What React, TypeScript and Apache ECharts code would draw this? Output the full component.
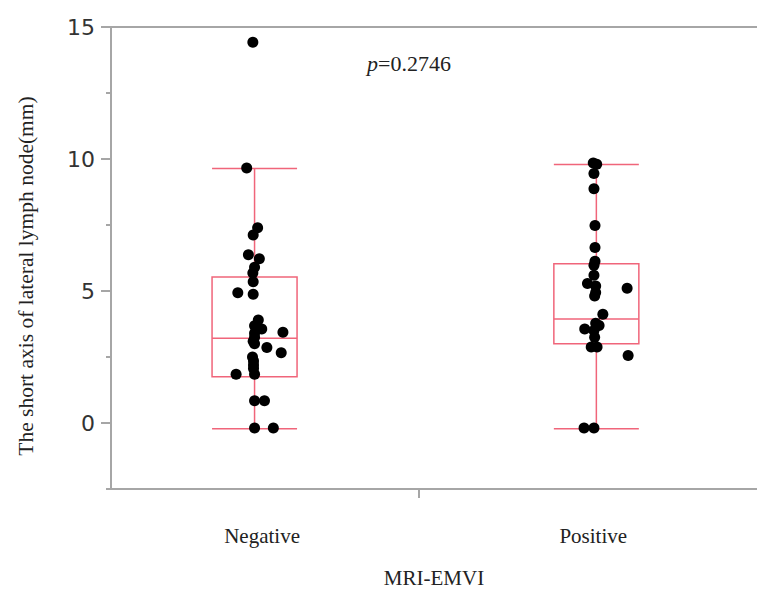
import React, { useEffect, useRef } from "react";
import * as echarts from "echarts";

// Categories and their positions on the x value axis
const categories = ["Negative", "Positive"];
const categoryX = [1, 2];
const categoryLabelX = [1.022, 1.991];
const dividerTickX = [1.479];

// Y axis ticks
const yMajorTicks = [0, 5, 10, 15];
const yMinorTicks = [-2.5, 2.5, 7.5, 12.5];

// Box plot summary: [min, Q1, median, Q3, max]
const negBox = [-0.22, 1.75, 3.21, 5.53, 9.64];
const posBox = [-0.22, 3.0, 3.94, 6.03, 9.79];

// Individual points (value, horizontal jitter offset)
const negValues = [14.42, 9.66, 7.4, 7.12, 6.37, 6.22, 5.9, 5.68, 5.35, 4.93, 4.88, 3.9, 3.68, 3.56, 3.44, 3.4, 3.25, 3.1, 3.0, 2.86, 2.66, 2.5, 2.35, 2.2, 2.06, 1.85, 1.85, 0.84, 0.84, -0.19, -0.19];
const negJitter = [-0.005, -0.023, 0.009, -0.004, -0.018, 0.014, 0.0, -0.005, -0.004, -0.049, -0.004, 0.011, 0.0, 0.021, 0.083, 0.0, 0.0, -0.004, 0.0, 0.036, 0.078, -0.006, -0.003, -0.003, -0.003, -0.054, 0.0, 0.0, 0.029, 0.0, 0.055];
const posValues = [9.85, 9.8, 9.45, 8.87, 7.48, 6.65, 6.13, 5.98, 5.6, 5.28, 5.19, 5.1, 4.94, 4.81, 4.12, 3.78, 3.69, 3.56, 3.5, 3.25, 2.88, 2.88, 2.56, -0.19, -0.19];
const posJitter = [-0.009, 0.001, -0.007, -0.007, -0.004, -0.004, -0.004, -0.007, -0.007, -0.026, -0.002, 0.09, -0.002, -0.005, 0.019, -0.002, 0.008, -0.034, -0.007, -0.005, -0.015, 0.002, 0.093, -0.036, -0.007];

const X_MIN = 0.58;
const X_MAX = 2.47;
const BOX_COLOR = "#f0657a";
const AXIS_COLOR = "#a6a6a6";

export default function App() {
  const ref = useRef<HTMLDivElement>(null);

  useEffect(() => {
    if (!ref.current) return;
    const chart = echarts.init(ref.current, null, { renderer: "svg" });

    const boxData = [
      [categoryX[0], ...negBox],
      [categoryX[1], ...posBox],
    ];
    const pts: number[][] = [];
    negValues.forEach((v, i) => pts.push([categoryX[0] + negJitter[i], v]));
    posValues.forEach((v, i) => pts.push([categoryX[1] + posJitter[i], v]));

    const halfW = 42.5;

    chart.setOption({
      animation: false,
      grid: { left: 111, right: 0, top: 27, bottom: 100, containLabel: false },
      xAxis: [
        {
          type: "value",
          min: X_MIN,
          max: X_MAX,
          position: "bottom",
          splitLine: { show: false },
          axisLine: { show: true, onZero: false, lineStyle: { color: AXIS_COLOR, width: 2 } },
          axisTick: {
            show: true,
            customValues: dividerTickX,
            length: 9,
            lineStyle: { color: AXIS_COLOR, width: 2 },
          },
          axisLabel: {
            customValues: categoryLabelX,
            margin: 36,
            color: "#222",
            fontFamily: "Liberation Serif",
            fontSize: 21,
            formatter: (v: number) => {
              let best = 0;
              categoryLabelX.forEach((c, i) => {
                if (Math.abs(c - v) < Math.abs(categoryLabelX[best] - v)) best = i;
              });
              return categories[best];
            },
          },
          name: "MRI-EMVI",
          nameLocation: "middle",
          nameGap: 78,
          nameTextStyle: {
            color: "#222",
            fontFamily: "Liberation Serif",
            fontSize: 21,
          },
        },
        {
          type: "value",
          min: X_MIN,
          max: X_MAX,
          position: "top",
          splitLine: { show: false },
          axisLine: { show: true, onZero: false, lineStyle: { color: AXIS_COLOR, width: 2 } },
          axisTick: { show: false },
          axisLabel: { show: false },
        },
      ],
      yAxis: [
        {
          type: "value",
          min: -2.5,
          max: 15,
          interval: 2.5,
          splitLine: { show: false },
          axisLine: { show: true, onZero: false, lineStyle: { color: AXIS_COLOR, width: 2 } },
          axisTick: {
            show: true,
            customValues: yMajorTicks,
            length: 10,
            lineStyle: { color: AXIS_COLOR, width: 2 },
          },
          axisLabel: {
            customValues: yMajorTicks,
            margin: 16,
            color: "#333",
            fontFamily: "DejaVu Sans",
            fontSize: 22,
            formatter: (v: number) => (v % 5 === 0 ? String(v) : ""),
          },
          name: "The short axis of lateral lymph node(mm)",
          nameLocation: "middle",
          nameGap: 74,
          nameRotate: 90,
          nameTextStyle: {
            color: "#222",
            fontFamily: "Liberation Serif",
            fontSize: 21.5,
            padding: [0, 36, 0, 0],
          },
        },
        {
          type: "value",
          min: -2.5,
          max: 15,
          interval: 2.5,
          position: "left",
          splitLine: { show: false },
          axisLine: { show: false, onZero: false },
          axisTick: {
            show: true,
            customValues: yMinorTicks,
            length: 5,
            lineStyle: { color: AXIS_COLOR, width: 2 },
          },
          axisLabel: { show: false },
        },
      ],
      graphic: [
        {
          type: "text",
          left: 367,
          top: 52,
          style: {
            text: "{i|p}=0.2746",
            font: "22px 'Liberation Serif'",
            fill: "#222",
            rich: {
              i: {
                fontStyle: "italic",
                fontFamily: "Liberation Serif",
                fontSize: 22,
                fill: "#222",
              },
            },
          },
        },
      ],
      series: [
        {
          type: "custom",
          xAxisIndex: 0,
          yAxisIndex: 0,
          z: 2,
          data: boxData,
          encode: { x: 0, y: [1, 2, 3, 4, 5] },
          renderItem: (params: any, api: any) => {
            const x = api.value(0);
            const mn = api.coord([x, api.value(1)]);
            const q1 = api.coord([x, api.value(2)]);
            const md = api.coord([x, api.value(3)]);
            const q3 = api.coord([x, api.value(4)]);
            const mx = api.coord([x, api.value(5)]);
            const cx = mn[0];
            const st = { stroke: BOX_COLOR, lineWidth: 1.5, fill: "none" };
            return {
              type: "group",
              children: [
                { type: "rect", shape: { x: cx - halfW, y: q3[1], width: 2 * halfW, height: q1[1] - q3[1] }, style: st },
                { type: "line", shape: { x1: cx - halfW, y1: md[1], x2: cx + halfW, y2: md[1] }, style: st },
                { type: "line", shape: { x1: cx, y1: q3[1], x2: cx, y2: mx[1] }, style: st },
                { type: "line", shape: { x1: cx, y1: q1[1], x2: cx, y2: mn[1] }, style: st },
                { type: "line", shape: { x1: cx - halfW, y1: mx[1], x2: cx + halfW, y2: mx[1] }, style: st },
                { type: "line", shape: { x1: cx - halfW, y1: mn[1], x2: cx + halfW, y2: mn[1] }, style: st },
              ],
            };
          },
        },
        {
          type: "scatter",
          xAxisIndex: 0,
          yAxisIndex: 0,
          z: 3,
          symbol: "circle",
          symbolSize: 11,
          itemStyle: { color: "#000", opacity: 1 },
          data: pts,
        },
      ],
    });

    return () => chart.dispose();
  }, []);

  return (
    <div
      ref={ref}
      style={{ position: "absolute", left: 0, top: 0, width: 757, height: 593 }}
    />
  );
}
